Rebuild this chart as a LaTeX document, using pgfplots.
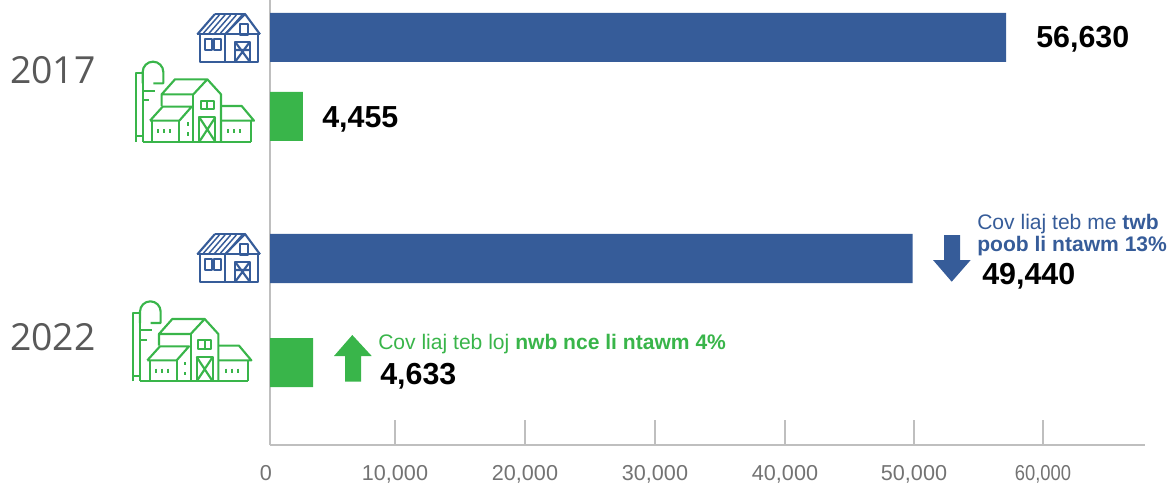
\documentclass[border=0pt]{standalone}
\usepackage{pgfplots}
\pgfplotsset{compat=1.18}
\usepackage{fontspec}
\setmainfont{Liberation Sans}
\newfontfamily\yearfont{Open Sans}
\definecolor{barblue}{HTML}{365C99}
\definecolor{bargreen}{HTML}{39B54A}
\definecolor{axisgray}{HTML}{BFBFBF}
\definecolor{ticktext}{HTML}{737373}
\definecolor{yeartext}{HTML}{595959}
\newcommand{\bluebarn}{%
  \draw (285,42)--(375,42);
  \draw (232,103)--(420,103);
  \draw (232,103)--(285,42);
  \draw (315,103)--(375,42)--(420,103);
  \draw (240,103)--(240,186)--(413,186)--(413,103);
  \draw (315,103)--(315,186);
  \foreach \a in {0,1,2,3,4}{\draw[line width=1.1pt] (250+\a*17,100)--(298+\a*17,45);}
  \draw (360,72) rectangle (384,105);
  \draw (255,118) rectangle (275,150);
  \draw (283,118) rectangle (303,150);
  \draw (345,125) rectangle (390,186);
  \draw (345,125)--(390,186) (390,125)--(345,186) (345,150)--(390,150);
}
\newcommand{\greenfarm}{%
  \draw (68,250)--(68,216) arc[start angle=180,end angle=360,radius=31]--(130,250)--(100,250);
  \draw (68,216)--(68,425);
  \draw (48,425)--(48,220)--(68,220);
  \draw (48,408)--(68,408);
  \draw (68,272)--(105,272) (68,300)--(88,300);
  \draw (125,318)--(125,283)--(165,238)--(262,238)--(220,283)--(125,283);
  \draw (262,238)--(303,283)--(303,425);
  \draw (220,283)--(220,425);
  \draw (243,302) rectangle (281,328) (262,302)--(262,328);
  \draw (238,352) rectangle (286,425);
  \draw (238,352)--(286,425) (286,352)--(238,425);
  \draw (90,362)--(128,320)--(215,320)--(178,362)--(90,362);
  \draw (97,362)--(97,425) (178,362)--(178,425);
  \draw (303,318)--(365,318)--(402,362)--(303,362);
  \draw (392,362)--(392,425);
  \draw (68,425)--(392,425);
  \foreach \p in {115,133,151,325,343,361}{\draw (\p,387)--(\p,399);}
  \draw (203,367)--(203,377) (203,397)--(203,407);
}
\begin{document}
\begin{tikzpicture}
\useasboundingbox (0pt,0pt) rectangle (879.75pt,-363.75pt);
\begin{axis}[
  at={(202.5pt,-333.75pt)},anchor=south west,
  scale only axis,width=656.25pt,height=333.75pt,
  xmin=0,xmax=67308,ymin=0,ymax=445,
  axis lines=left,
  axis line style={-,draw=axisgray,line width=2pt},
  tick style={draw=axisgray,line width=1.5pt},
  tick align=inside,
  major tick length=18.75pt,
  xtick={0,9615,19615,29615,39615,49538,59462},
  xticklabels={\hspace*{-6pt}0,{10,000},{20,000},{30,000},{40,000},{50,000},{\scalebox{0.85}[1]{60,000}}},
  xticklabel style={font=\fontsize{16.2}{18}\selectfont,text=ticktext,yshift=-11.5pt},
  ytick={375,108},
  yticklabels={2017,2022},
  y tick style={draw=none},
  yticklabel style={font=\yearfont\fontsize{28}{32}\selectfont,text=yeartext,xshift=-108.5pt},
  xbar,bar width=36.75pt,bar shift=0pt,
]
\addplot[fill=barblue,draw=none] coordinates {(56630,407.5) (49440,186.5)};
\addplot[fill=bargreen,draw=none] coordinates {(2538,328.5) (3308,82.5)};
\end{axis}
\begin{scope}[x=0.75pt,y=-0.75pt]
% icons, coordinates in thirds of a pixel
\begin{scope}[x=0.25pt,y=-0.25pt,xshift=90pt,line width=1.6pt,line join=round]
  \begin{scope}[draw=barblue]\bluebarn\end{scope}
  \begin{scope}[yshift=-165pt,draw=barblue]\bluebarn\end{scope}
  \begin{scope}[draw=bargreen]\greenfarm\end{scope}
  \begin{scope}[xshift=-2pt,yshift=-179.75pt,draw=bargreen]\greenfarm\end{scope}
\end{scope}
% arrows
\fill[bargreen] (352.3,335)--(371.7,356)--(361,356)--(361,381.7)--(345,381.7)--(345,356)--(334,356)--cycle;
\fill[barblue] (951.7,281.7)--(970.7,260)--(960,260)--(960,235)--(944,235)--(944,260)--(933,260)--cycle;
% value labels
\tikzset{val/.style={font=\bfseries\fontsize{22.8}{26}\selectfont,text=black,inner sep=0pt,anchor=base west}}
\node[val] at (1036,48) {56,630};
\node[val] at (322,127) {4,455};
\node[val] at (982,284) {49,440};
\node[val] at (380,384) {4,633};
% notes
\node[font=\fontsize{15.8}{16}\selectfont,text=bargreen,inner sep=0pt,anchor=base west] at (378,349) {Cov liaj teb loj \textbf{nwb nce li ntawm 4\%}};
\node[font=\fontsize{15.8}{16}\selectfont,text=barblue,inner sep=0pt,anchor=base west] at (977,229) {Cov liaj teb me \textbf{twb}};
\node[font=\fontsize{15.8}{16}\selectfont,text=barblue,inner sep=0pt,anchor=base west] at (977,251) {\textbf{poob li ntawm 13\%}};
\end{scope}
\end{tikzpicture}
\end{document}
